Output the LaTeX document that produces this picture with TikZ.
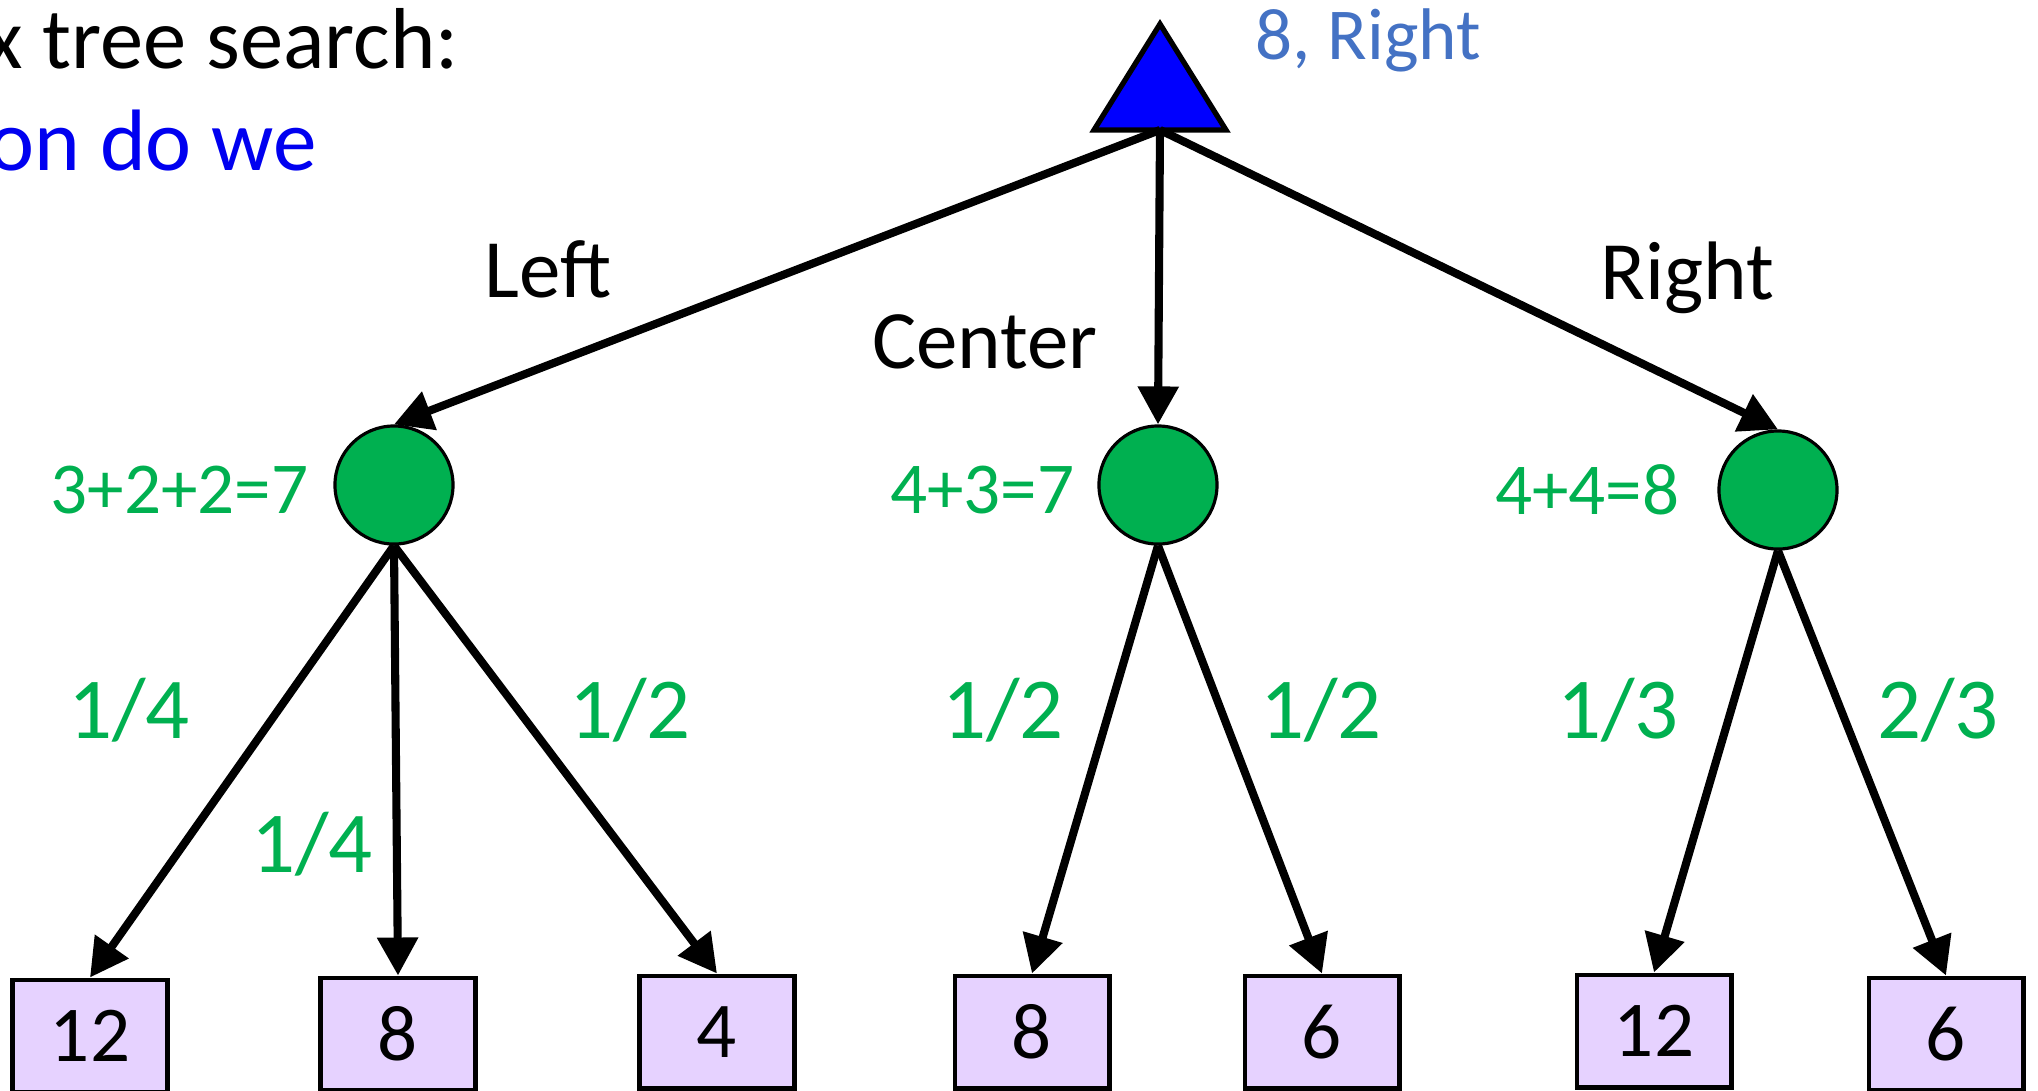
\documentclass[tikz,border=0pt]{standalone}
\usepackage{fontspec}
\setmainfont{Carlito}
\usetikzlibrary{arrows.meta}
\definecolor{chancegreen}{HTML}{00B050}
\definecolor{leafpurple}{HTML}{E6D2FF}
\definecolor{valueblue}{HTML}{4472C4}
\definecolor{titleblue}{HTML}{0000F0}
\begin{document}
\begin{tikzpicture}[x=0.01cm, y=-0.01cm,
    chance/.style={circle, draw, line width=0.9pt, fill=chancegreen, minimum size=1.18cm, inner sep=0pt},
    leaf/.style={rectangle, draw, line width=1.4pt, fill=leafpurple, minimum width=1.54cm, minimum height=1.12cm, inner sep=0pt, font=\fontsize{22.5}{27}\selectfont},
    act/.style={anchor=base, inner sep=0pt, font=\fontsize{23.6}{28}\selectfont},
    val/.style={anchor=base east, inner sep=0pt, text=chancegreen, font=\fontsize{20.8}{25}\selectfont},
    prob/.style={anchor=base, inner sep=0pt, text=chancegreen, font=\fontsize{24.7}{30}\selectfont},
    edge/.style={line width=2.3pt, -{Triangle[length=10.8pt, width=11.2pt]}}]
    \useasboundingbox (0,0) rectangle (2038,1090);

    % Texto de arriba
    \node[anchor=base west, inner sep=0pt, font=\fontsize{24.6}{29}\selectfont] (title) at (-15,68) {x tree search:};
    \node[anchor=base west, inner sep=0pt, text=titleblue, font=\fontsize{24.8}{29}\selectfont] (question) at (-12,170) {on do we};

    % Raiz (max)
    \draw[line width=1.5pt, fill=blue, line join=miter] (1160,24) -- (1226,130) -- (1094,130) -- cycle;
    \coordinate (root) at (1160,130);
    \node[anchor=base west, inner sep=0pt, text=valueblue, font=\fontsize{20.8}{25}\selectfont] (rootval) at (1255,59) {8, Right};

    % Nodos de azar
    \node[chance] (cL) at (394,485) {};
    \node[chance] (cC) at (1158,485) {};
    \node[chance] (cR) at (1778,490) {};
    \node[val] (vL) at (309,513) {3+2+2=7};
    \node[val] (vC) at (1075,513) {4+3=7};
    \node[val] (vR) at (1680,514) {4+4=8};

    \draw[edge] (root) -- (cL.north);
    \draw[edge] (root) -- (cC.north);
    \draw[edge] (root) -- (cR.north);
    \node[act] (left) at (548,297) {Left};
    \node[act] (center) at (985,368) {Center};
    \node[act] (right) at (1687,299) {Right};

    % Hojas
    \node[leaf] (l1) at (90,1036) {12};
    \node[leaf] (l2) at (398,1034) {8};
    \node[leaf] (l3) at (717,1032) {4};
    \node[leaf] (l4) at (1032,1032) {8};
    \node[leaf] (l5) at (1322,1032) {6};
    \node[leaf] (l6) at (1654,1031) {12};
    \node[leaf] (l7) at (1946,1034) {6};

    \draw[edge] (cL.south) -- (l1.north);
    \draw[edge] (cL.south) -- (l2.north);
    \draw[edge] (cL.south) -- (l3.north);
    \draw[edge] (cC.south) -- (l4.north);
    \draw[edge] (cC.south) -- (l5.north);
    \draw[edge] (cR.south) -- (l6.north);
    \draw[edge] (cR.south) -- (l7.north);

    % Probabilidades
    \node[prob] (p1) at (129,738) {1/4};
    \node[prob] (p2) at (312,872) {1/4};
    \node[prob] (p3) at (630,738) {1/2};
    \node[prob] (p4) at (1003,738) {1/2};
    \node[prob] (p5) at (1321,738) {1/2};
    \node[prob] (p6) at (1618,738) {1/3};
    \node[prob] (p7) at (1938,738) {2/3};
  \end{tikzpicture}
\end{document}
